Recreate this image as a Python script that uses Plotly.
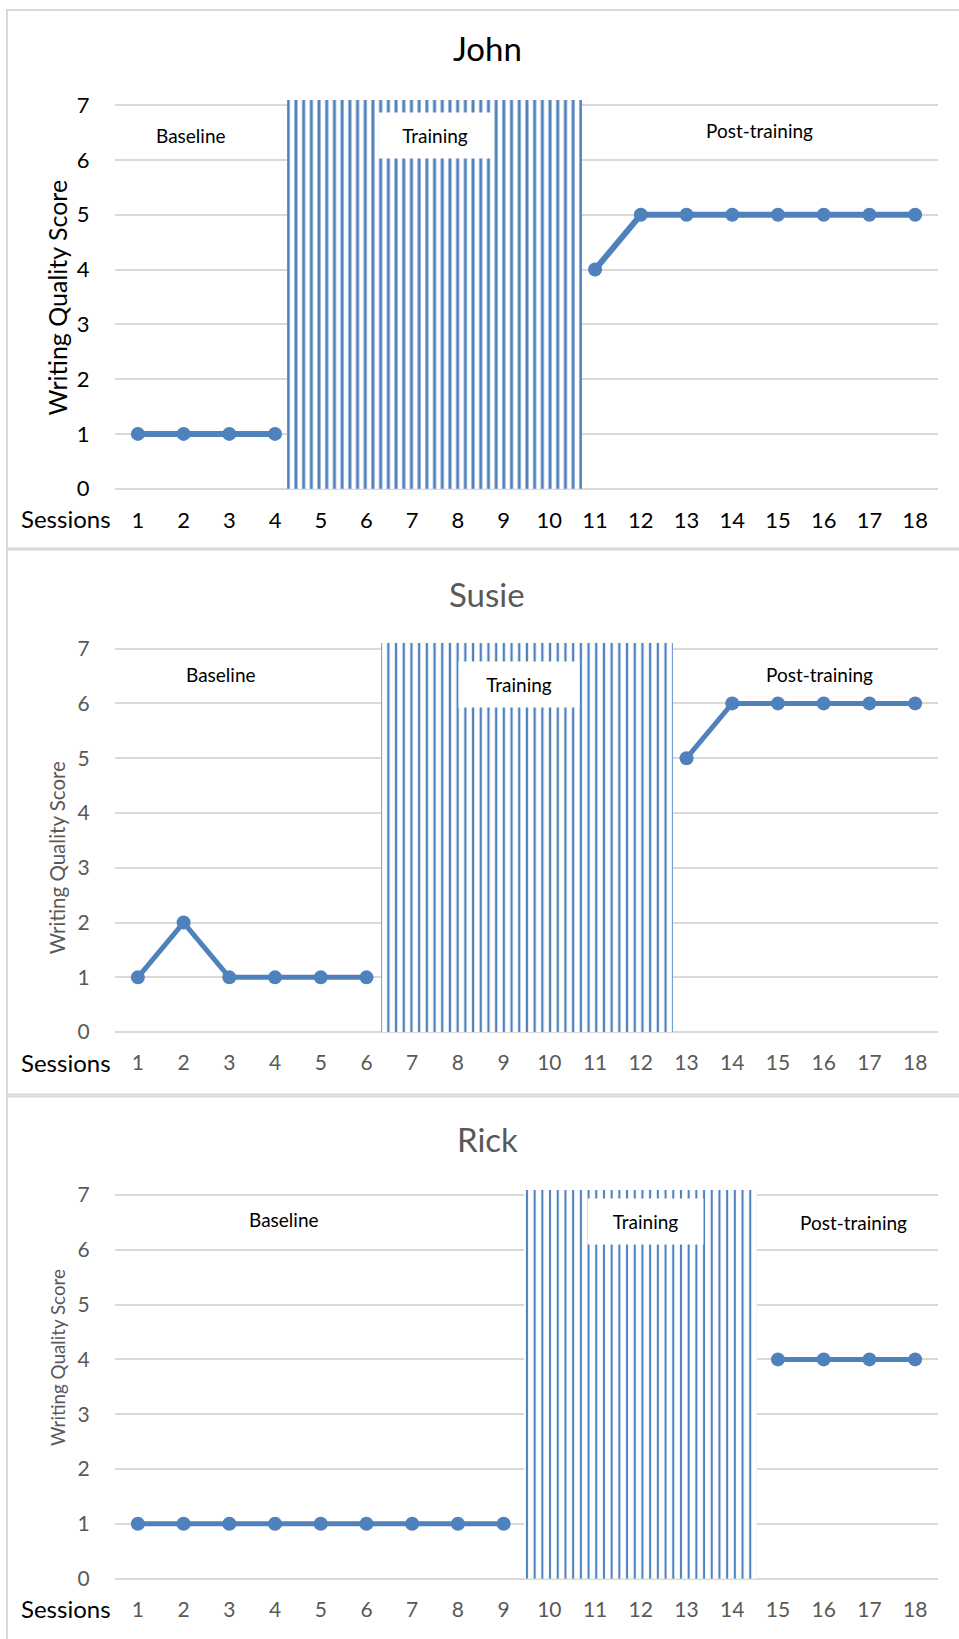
import plotly.graph_objects as go

# ---- data -------------------------------------------------------------
sessions = list(range(1, 19))
session_labels = [str(s) for s in sessions]
score_ticks = list(range(0, 8))

john_baseline_x = [1, 2, 3, 4]
john_baseline_y = [1, 1, 1, 1]
john_post_x = [11, 12, 13, 14, 15, 16, 17, 18]
john_post_y = [4, 5, 5, 5, 5, 5, 5, 5]
john_training = [4.26, 10.72]

susie_baseline_x = [1, 2, 3, 4, 5, 6]
susie_baseline_y = [1, 2, 1, 1, 1, 1]
susie_post_x = [13, 14, 15, 16, 17, 18]
susie_post_y = [5, 6, 6, 6, 6, 6]
susie_training = [6.32, 12.7]

rick_baseline_x = [1, 2, 3, 4, 5, 6, 7, 8, 9]
rick_baseline_y = [1, 1, 1, 1, 1, 1, 1, 1, 1]
rick_post_x = [15, 16, 17, 18]
rick_post_y = [4, 4, 4, 4]
rick_training = [9.45, 14.55]

names = ["John", "Susie", "Rick"]
y_title = "Writing Quality Score"
x_title = "Sessions"
phase_names = ["Baseline", "Training", "Post-training"]
y_top = 7.1

# ---- styling ----------------------------------------------------------
W, H = 959, 1639
BLUE = "#4f81bd"
GRID = "#d9d9d9"
FONT = "Lato"

# vertical page positions (px) are given as seen on the page and mapped
# to figure pixels below
PAGE_OFFSET, PAGE_SCALE = 7.5, 0.9903

panels = [
    dict(name=names[0], base=(john_baseline_x, john_baseline_y),
         post=(john_post_x, john_post_y), training=john_training,
         bottom=489, box=(7, 5, 549), title_y=47, tick_col="#000000",
         tick_size=22, ytitle_size=25, ytitle_col="#000000", ytitle_y=297,
         line_w=6, hatch=0.39,
         labels=[(2.16, 6.44), (7.5, 6.45), (14.6, 6.54)], box_w=112),
    dict(name=names[1], base=(susie_baseline_x, susie_baseline_y),
         post=(susie_post_x, susie_post_y), training=susie_training,
         bottom=1034.5, box=(7, 550, 1097), title_y=595, tick_col="#595959",
         tick_size=21, ytitle_size=20.5, ytitle_col="#595959", ytitle_y=860,
         line_w=5, hatch=0.3,
         labels=[(2.82, 6.53), (9.34, 6.35), (15.9, 6.52)], box_w=120),
    dict(name=names[2], base=(rick_baseline_x, rick_baseline_y),
         post=(rick_post_x, rick_post_y), training=rick_training,
         bottom=1583, box=(7, 1099, 1680), title_y=1142, tick_col="#595959",
         tick_size=21, ytitle_size=18.8, ytitle_col="#595959", ytitle_y=1302 * 1.0458,
         line_w=5, hatch=0.27,
         labels=[(4.2, 6.55), (12.1, 6.51), (16.65, 6.5)], box_w=115),
]

PX_PER_UNIT = 55
PLOT_L, PLOT_R = 115, 938


def fig_px(page_y):
    return (page_y - PAGE_OFFSET) / PAGE_SCALE


def py(page_y):
    return 1 - fig_px(page_y) / H


fig = go.Figure()
shapes = []
annotations = []
layout_axes = {}

for i, p in enumerate(panels, start=1):
    xa = "x" if i == 1 else f"x{i}"
    ya = "y" if i == 1 else f"y{i}"
    bottom = p["bottom"]
    top = bottom - y_top * PX_PER_UNIT

    # hatched training phase
    t0, t1 = p["training"]
    fig.add_trace(go.Bar(
        x=[(t0 + t1) / 2], y=[y_top], width=[t1 - t0],
        xaxis=xa, yaxis=ya, showlegend=False, hoverinfo="skip",
        marker=dict(color="white", line=dict(width=0),
                    pattern=dict(shape="|", fgcolor=BLUE, bgcolor="white",
                                 fgopacity=1, size=7.7, solidity=p["hatch"],
                                 fillmode="replace")),
    ))
    # baseline and post-training series
    for xs, ys in (p["base"], p["post"]):
        fig.add_trace(go.Scatter(
            x=xs, y=ys, mode="lines+markers", xaxis=xa, yaxis=ya,
            showlegend=False, line=dict(color=BLUE, width=p["line_w"]),
            marker=dict(color=BLUE, size=14),
        ))

    key = "" if i == 1 else str(i)
    layout_axes[f"xaxis{key}"] = dict(
        domain=[PLOT_L / W, PLOT_R / W], range=[0.5, 18.5], anchor=ya,
        tickmode="array", tickvals=sessions, ticktext=session_labels,
        showgrid=False, zeroline=False, showline=False,
        ticks="outside", ticklen=12, tickcolor="rgba(0,0,0,0)",
        tickfont=dict(family=FONT, size=p["tick_size"], color=p["tick_col"]),
        fixedrange=True,
    )
    layout_axes[f"yaxis{key}"] = dict(
        domain=[py(bottom), py(top)], range=[0, y_top], anchor=xa,
        tickmode="array", tickvals=score_ticks,
        showgrid=True, gridcolor=GRID, gridwidth=2,
        zeroline=True, zerolinecolor=GRID, zerolinewidth=2, showline=False,
        ticks="outside", ticklen=20, tickcolor="rgba(0,0,0,0)",
        tickfont=dict(family=FONT, size=p["tick_size"], color=p["tick_col"]),
        fixedrange=True,
    )

    # panel frame
    bx, by0, by1 = p["box"]
    shapes.append(dict(type="rect", xref="paper", yref="paper",
                       x0=bx / W, x1=1.02, y0=py(by1), y1=min(py(by0), 1 - 1 / H),
                       line=dict(color=GRID, width=2), layer="below"))

    # chart title
    annotations.append(dict(
        text=p["name"], xref="paper", yref="paper", x=487 / W, y=py(p["title_y"]),
        xanchor="center", yanchor="middle", showarrow=False,
        font=dict(family=FONT, size=33, color="#000000" if i == 1 else "#595959"),
    ))
    # y-axis title
    annotations.append(dict(
        text=y_title, xref="paper", yref="paper", x=57 / W, y=py(p["ytitle_y"]),
        xanchor="center", yanchor="middle", textangle=-90, showarrow=False,
        font=dict(family=FONT, size=p["ytitle_size"], color=p["ytitle_col"]),
    ))
    # x-axis title, left of the session numbers
    annotations.append(dict(
        text=x_title, xref="paper", yref="paper", x=113 / W, y=py(bottom + 30),
        xanchor="right", yanchor="middle", showarrow=False,
        font=dict(family=FONT, size=24, color="#000000"),
    ))
    # phase labels
    for j, (lx, ly) in enumerate(p["labels"]):
        ann = dict(text=phase_names[j], xref=xa, yref=ya, x=lx, y=ly,
                   xanchor="center", yanchor="middle", showarrow=False,
                   font=dict(family=FONT, size=19, color="#000000"))
        if j == 1:
            ann.update(bgcolor="white", width=p["box_w"], height=45, borderpad=0)
        annotations.append(ann)

fig.update_layout(
    width=W, height=H, autosize=False,
    margin=dict(l=0, r=0, t=0, b=0),
    paper_bgcolor="white", plot_bgcolor="white",
    bargap=0, showlegend=False,
    shapes=shapes, annotations=annotations,
    **layout_axes,
)

fig.write_html(
    "out.html",
    config={"displayModeBar": False},
    post_script="document.body.style.margin='0';document.body.style.overflow='hidden';",
)
